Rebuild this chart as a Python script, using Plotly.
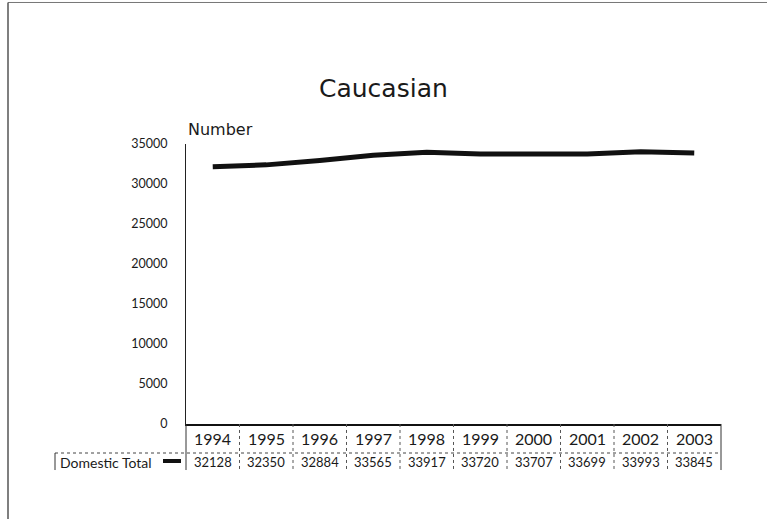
import plotly.graph_objects as go

years = ["1994", "1995", "1996", "1997", "1998", "1999", "2000", "2001", "2002", "2003"]
domestic_total = [32128, 32350, 32884, 33565, 33917, 33720, 33707, 33699, 33993, 33845]
y_ticks = [0, 5000, 10000, 15000, 20000, 25000, 30000, 35000]
series_name = "Domestic Total"
title_text = "Caucasian"
y_title = "Number"

W, H = 767, 519
FONT = "Lato"
TXT = "#1a1a1a"

def px(x):
    return x / W

def py(y):
    yy = (y - 8.5) / 0.97
    return 1 - yy / H

x0, x1 = 186, 721
y_top, y_zero = 144, 424

fig = go.Figure()
fig.add_trace(go.Scatter(
    x=years, y=domestic_total, mode="lines",
    line=dict(color="#111111", width=5),
    name=series_name, showlegend=False, hoverinfo="x+y",
))

annotations = []
annotations.append(dict(text=title_text, x=px(383), y=py(89), xref="paper", yref="paper",
                        showarrow=False, font=dict(family="DejaVu Sans", size=25, color=TXT),
                        xanchor="center", yanchor="middle"))
annotations.append(dict(text=y_title, x=px(186), y=py(130), xref="paper", yref="paper",
                        showarrow=False, font=dict(family="DejaVu Sans", size=16, color=TXT),
                        xanchor="left", yanchor="middle"))
for i, (yr, v) in enumerate(zip(years, domestic_total)):
    annotations.append(dict(text=yr, x=i, y=py(439), xref="x", yref="paper",
                            showarrow=False, font=dict(family=FONT, size=16, color=TXT),
                            xanchor="center", yanchor="middle"))
    annotations.append(dict(text=str(v), x=i, y=py(462), xref="x", yref="paper",
                            showarrow=False, font=dict(family=FONT, size=13, color=TXT),
                            xanchor="center", yanchor="middle"))
annotations.append(dict(text=series_name, x=px(58), y=py(462), xref="paper", yref="paper",
                        showarrow=False, font=dict(family=FONT, size=14, color=TXT),
                        xanchor="left", yanchor="middle"))

shapes = []
shapes.append(dict(type="line", xref="paper", yref="paper", x0=px(8), x1=px(767), y0=py(3), y1=py(3),
                   line=dict(color="#777777", width=1)))
shapes.append(dict(type="line", xref="paper", yref="paper", x0=px(8), x1=px(8), y0=py(3), y1=py(519),
                   line=dict(color="#555555", width=1.5)))
shapes.append(dict(type="line", xref="paper", yref="paper", x0=px(55), x1=px(x1), y0=py(453), y1=py(453),
                   line=dict(color="#444444", width=1, dash="dot")))
shapes.append(dict(type="line", xref="paper", yref="paper", x0=px(55), x1=px(55), y0=py(453), y1=py(470),
                   line=dict(color="#333333", width=1)))
shapes.append(dict(type="line", xref="paper", yref="paper", x0=px(x0), x1=px(x0), y0=py(424), y1=py(470),
                   line=dict(color="#333333", width=1)))
shapes.append(dict(type="line", xref="paper", yref="paper", x0=px(x1), x1=px(x1), y0=py(424), y1=py(470),
                   line=dict(color="#333333", width=1)))
for i in range(len(years) - 1):
    shapes.append(dict(type="line", xref="x", yref="paper", x0=i + 0.5, x1=i + 0.5, y0=py(424), y1=py(470),
                       line=dict(color="#555555", width=1, dash="dot")))
shapes.append(dict(type="line", xref="paper", yref="paper", x0=px(163), x1=px(181), y0=py(461), y1=py(461),
                   line=dict(color="#111111", width=4)))

fig.update_layout(
    width=W, height=H,
    margin=dict(l=0, r=0, t=0, b=0),
    paper_bgcolor="white", plot_bgcolor="white",
    showlegend=False,
    xaxis=dict(domain=[px(x0), px(x1)], range=[-0.5, len(years) - 0.5], type="category",
               showticklabels=False, showgrid=False, zeroline=False,
               showline=True, linecolor="#111111", linewidth=1.5, ticks=""),
    yaxis=dict(domain=[py(y_zero), py(y_top)], range=[0, 35000], tickvals=y_ticks,
               ticktext=[str(t) for t in y_ticks],
               showgrid=False, zeroline=False, showline=True, linecolor="#222222", linewidth=1.2,
               ticks="", ticklabelstandoff=15,
               tickfont=dict(family=FONT, size=12.5, color=TXT)),
    annotations=annotations,
    shapes=shapes,
)

fig.write_html("out.html", config={"displayModeBar": False},
               post_script="document.body.style.margin='0';document.body.style.overflow='hidden';")
